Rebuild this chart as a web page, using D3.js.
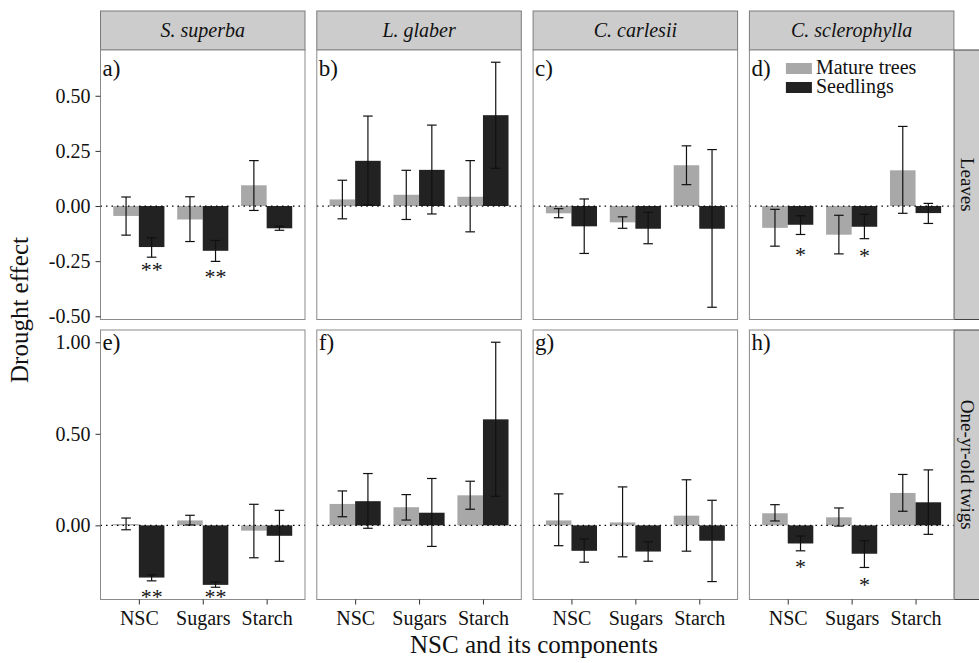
<!DOCTYPE html>
<html>
<head>
<meta charset="utf-8">
<script src="https://cdn.jsdelivr.net/npm/d3@7"></script>
<style>
body { margin: 0; background: #fff; }
svg text { font-family: "Liberation Serif", "Times New Roman", serif; fill: #111; }
</style>
</head>
<body>
<script>
// categories
var species = ["S. superba", "L. glaber", "C. carlesii", "C. sclerophylla"];
var tissues = ["Leaves", "One-yr-old twigs"];
var components = ["NSC", "Sugars", "Starch"];
var groups = ["Mature trees", "Seedlings"];
var tags = [["a)", "b)", "c)", "d)"], ["e)", "f)", "g)", "h)"]];

// drought effect, one row per species, columns NSC / Sugars / Starch
var leafMature   = [[-0.045, -0.061, 0.094], [0.030, 0.051, 0.042], [-0.033, -0.074, 0.185], [-0.099, -0.130, 0.162]];
var leafMatureLo = [[-0.132, -0.161, -0.020], [-0.058, -0.061, -0.117], [-0.053, -0.101, 0.097], [-0.182, -0.217, -0.033]];
var leafMatureHi = [[0.041, 0.042, 0.206], [0.117, 0.162, 0.206], [-0.012, -0.049, 0.273], [-0.015, -0.042, 0.361]];
var leafSeed     = [[-0.186, -0.203, -0.101], [0.205, 0.164, 0.412], [-0.092, -0.103, -0.103], [-0.085, -0.094, -0.032]];
var leafSeedLo   = [[-0.232, -0.251, -0.110], [0.006, -0.036, 0.171], [-0.215, -0.171, -0.459], [-0.129, -0.148, -0.079]];
var leafSeedHi   = [[-0.144, -0.156, -0.092], [0.408, 0.367, 0.652], [0.032, -0.029, 0.256], [-0.044, -0.038, 0.012]];

var twigMature   = [[0.007, 0.027, -0.029], [0.117, 0.099, 0.164], [0.027, 0.016, 0.053], [0.066, 0.044, 0.177]];
var twigMatureLo = [[-0.024, 0.002, -0.177], [0.047, 0.029, 0.088], [-0.111, -0.172, -0.141], [0.024, -0.004, 0.077]];
var twigMatureHi = [[0.040, 0.055, 0.115], [0.188, 0.168, 0.241], [0.172, 0.210, 0.249], [0.113, 0.095, 0.278]];
var twigSeed     = [[-0.285, -0.325, -0.057], [0.132, 0.069, 0.579], [-0.139, -0.143, -0.084], [-0.099, -0.155, 0.126]];
var twigSeedLo   = [[-0.303, -0.338, -0.196], [-0.016, -0.115, 0.159], [-0.201, -0.196, -0.307], [-0.139, -0.230, -0.049]];
var twigSeedHi   = [[-0.270, -0.309, 0.082], [0.283, 0.256, 1.000], [-0.075, -0.089, 0.137], [-0.058, -0.084, 0.303]];

// significance marks (on the seedling bar): tissue, species, component, label, value where the mark sits
var sigMarks = [
	[0, 0, 0, "**", -0.276], [0, 0, 1, "**", -0.308],
	[0, 3, 0, "*", -0.205], [0, 3, 1, "*", -0.212],
	[1, 0, 0, "**", -0.372], [1, 0, 1, "**", -0.372],
	[1, 3, 0, "*", -0.207], [1, 3, 1, "*", -0.305]
];

var yTicks = [[-0.5, -0.25, 0, 0.25, 0.5], [0, 0.5, 1]];

var groupColor = ["#a8a8a8", "#222222"];

// layout
var W = 979, H = 663;
var left = 100.5, panelW = 204.5, gapX = 11.8;
var stripTop = 11, stripH = 39;
var rowTop = [50, 330], rowH = 269.5;
var tagOffset = [25.5, 19.5];
var serif = "'Liberation Serif', 'Times New Roman', serif";

var table = [
	[[leafMature, leafMatureLo, leafMatureHi], [leafSeed, leafSeedLo, leafSeedHi]],
	[[twigMature, twigMatureLo, twigMatureHi], [twigSeed, twigSeedLo, twigSeedHi]]
];

function records(t, s) {
	var out = [];
	components.forEach(function(c, ci) {
		groups.forEach(function(g, gi) {
			var set = table[t][gi];
			out.push({ comp: c, group: gi, mean: set[0][s][ci], lo: set[1][s][ci], hi: set[2][s][ci] });
		});
	});
	return out;
}

function fmt(d) {
	return d3.format(".2f")(d).replace("\u2212", "-");
}

var svg = d3.select("body").append("svg")
	.attr("width", W).attr("height", H)
	.attr("font-family", serif);

// y scale per row, like ggplot: data range + 5%
var yScales = tissues.map(function(tname, t) {
	var lo = 0, hi = 0;
	species.forEach(function(sp, s) {
		records(t, s).forEach(function(d) {
			lo = Math.min(lo, d.lo, d.mean);
			hi = Math.max(hi, d.hi, d.mean);
		});
	});
	var pad = (hi - lo) * 0.05;
	return d3.scaleLinear().domain([lo - pad, hi + pad]).range([rowH, 0]);
});

// top strips
species.forEach(function(sp, s) {
	var x0 = left + s * (panelW + gapX);
	svg.append("rect")
		.attr("x", x0).attr("y", stripTop)
		.attr("width", panelW).attr("height", stripH)
		.attr("fill", "#cccccc").attr("stroke", "#7a7a7a").attr("stroke-width", 1);
	svg.append("text")
		.attr("x", x0 + panelW / 2).attr("y", stripTop + stripH / 2 + 6.5)
		.attr("text-anchor", "middle")
		.attr("font-size", 20).attr("font-style", "italic")
		.text(sp);
});

// right strips
var rx = left + 4 * panelW + 3 * gapX;
tissues.forEach(function(tname, t) {
	svg.append("rect")
		.attr("x", rx).attr("y", rowTop[t])
		.attr("width", stripH).attr("height", rowH)
		.attr("fill", "#cccccc").attr("stroke", "#444").attr("stroke-width", 1);
	svg.append("text")
		.attr("transform", "translate(" + (rx + 7) + "," + (rowTop[t] + rowH / 2) + ") rotate(90)")
		.attr("text-anchor", "middle")
		.attr("font-size", 19)
		.text(tname);
});

tissues.forEach(function(tname, t) {
	var y = yScales[t];
	species.forEach(function(sp, s) {
		var x0 = left + s * (panelW + gapX);
		var g = svg.append("g").attr("transform", "translate(" + x0 + "," + rowTop[t] + ")");
		var x = d3.scalePoint().domain(components).range([0, panelW]).padding(0.6);
		var step = x.step();
		var bw = step * 0.4;
		var cap = step * 0.15;
		var data = records(t, s);

		g.append("rect")
			.attr("width", panelW).attr("height", rowH)
			.attr("fill", "#fff");

		g.selectAll("rect.bar")
			.data(data)
			.enter()
			.append("rect")
			.attr("class", "bar")
			.attr("x", function(d) { return x(d.comp) + (d.group == 0 ? -bw : 0); })
			.attr("y", function(d) { return Math.min(y(d.mean), y(0)); })
			.attr("width", bw)
			.attr("height", function(d) { return Math.abs(y(d.mean) - y(0)); })
			.attr("fill", function(d) { return groupColor[d.group]; });

		var eb = g.selectAll("g.err")
			.data(data)
			.enter()
			.append("g")
			.attr("class", "err")
			.attr("transform", function(d) {
				return "translate(" + (x(d.comp) + (d.group == 0 ? -bw / 2 : bw / 2)) + ",0)";
			})
			.attr("stroke", "#111").attr("stroke-width", 1.2);
		eb.append("line")
			.attr("y1", function(d) { return y(d.lo); })
			.attr("y2", function(d) { return y(d.hi); });
		eb.append("line")
			.attr("x1", -cap / 2).attr("x2", cap / 2)
			.attr("y1", function(d) { return y(d.lo); })
			.attr("y2", function(d) { return y(d.lo); });
		eb.append("line")
			.attr("x1", -cap / 2).attr("x2", cap / 2)
			.attr("y1", function(d) { return y(d.hi); })
			.attr("y2", function(d) { return y(d.hi); });

		// zero line
		g.append("line")
			.attr("x1", 0).attr("x2", panelW)
			.attr("y1", y(0)).attr("y2", y(0))
			.attr("stroke", "#000").attr("stroke-width", 1.2)
			.attr("stroke-dasharray", "1.5,4");

		// significance
		g.selectAll("text.sig")
			.data(sigMarks.filter(function(m) { return m[0] == t && m[1] == s; }))
			.enter()
			.append("text")
			.attr("class", "sig")
			.attr("x", function(m) { return x(components[m[2]]) + bw / 2; })
			.attr("y", function(m) { return y(m[4]); })
			.attr("dy", "0.47em")
			.attr("text-anchor", "middle")
			.attr("font-size", 22)
			.text(function(m) { return m[3]; });

		g.append("text")
			.attr("x", 2).attr("y", tagOffset[t])
			.attr("font-size", 23)
			.text(tags[t][s]);

		g.append("rect")
			.attr("width", panelW).attr("height", rowH)
			.attr("fill", "none").attr("stroke", "#8a8a8a").attr("stroke-width", 1);

		if (s == 0) {
			var ya = g.append("g")
				.call(d3.axisLeft(y).tickValues(yTicks[t]).tickSize(5).tickPadding(5).tickFormat(fmt))
				.attr("font-family", serif).attr("font-size", 20);
			ya.select(".domain").remove();
			ya.selectAll("line").attr("stroke", "#333");
			ya.selectAll("text").attr("fill", "#111");
		}
		if (t == 1) {
			var xa = g.append("g")
				.attr("transform", "translate(0," + rowH + ")")
				.call(d3.axisBottom(x).tickSize(5).tickPadding(6))
				.attr("font-family", serif).attr("font-size", 20);
			xa.select(".domain").remove();
			xa.selectAll("line").attr("stroke", "#333");
			xa.selectAll("text").attr("fill", "#111");
		}

		// legend in the last top panel
		if (t == 0 && s == 3) {
			var lg = g.selectAll("g.legend")
				.data(groups)
				.enter()
				.append("g")
				.attr("class", "legend")
				.attr("transform", function(d, i) { return "translate(36.5," + (13 + i * 19) + ")"; });
			lg.append("rect")
				.attr("width", 26).attr("height", 11)
				.attr("fill", function(d, i) { return groupColor[i]; });
			lg.append("text")
				.attr("x", 30).attr("y", 10.5)
				.attr("font-size", 20)
				.text(function(d) { return d; });
		}
	});
});

// axis titles
svg.append("text")
	.attr("x", 534).attr("y", 653)
	.attr("text-anchor", "middle")
	.attr("font-size", 25)
	.text("NSC and its components");

svg.append("text")
	.attr("transform", "translate(28,310) rotate(-90)")
	.attr("text-anchor", "middle")
	.attr("font-size", 25)
	.text("Drought effect");
</script>
</body>
</html>
